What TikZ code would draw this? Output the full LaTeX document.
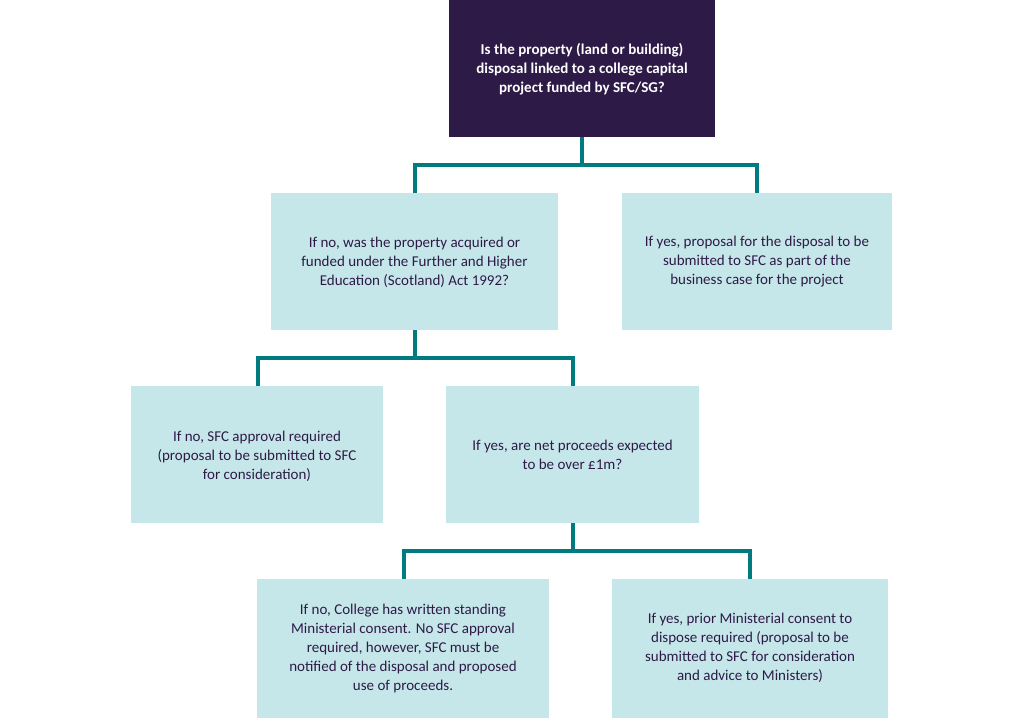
\documentclass[tikz,border=0pt]{standalone}
\usepackage{fontspec}
\setmainfont{Carlito}
\definecolor{dpurple}{HTML}{2E1A47}
\definecolor{lbox}{HTML}{C6E7EA}
\definecolor{teal}{HTML}{007C80}
\begin{document}
\begin{tikzpicture}[x=1pt,y=-1pt,
  lb/.style={fill=lbox,draw=none,align=center,text=dpurple,font=\fontsize{15}{19}\selectfont,inner sep=0pt},
  conn/.style={draw=teal,line width=3.5pt}]
\useasboundingbox (0,0) rectangle (1024,718);
\fill[dpurple] (449,0) rectangle (715,137);
\node[text=white,font=\bfseries\fontsize{15}{19}\selectfont,align=center] (t) at (582,69) {Is the property (land or building)\\disposal linked to a college capital\\project funded by SFC/SG?};
\coordinate (tb) at (582,137);
\fill[lbox] (271,193) rectangle (558,330);
\node[lb] (b2) at (414.5,262) {If no, was the property acquired or\\funded under the Further and Higher\\Education (Scotland) Act 1992?};
\fill[lbox] (622,193) rectangle (892,330);
\node[lb] (b3) at (757,262) {If yes, proposal for the disposal to be\\submitted to SFC as part of the\\business case for the project};
\fill[lbox] (131,386) rectangle (383,523);
\node[lb] (b4) at (257,456) {If no, SFC approval required\\(proposal to be submitted to SFC\\for consideration)};
\fill[lbox] (446,386) rectangle (699,523);
\node[lb] (b5) at (572.5,455) {If yes, are net proceeds expected\\to be over £1m?};
\fill[lbox] (257,579) rectangle (549,718);
\node[lb] (b6) at (403,648) {If no, College has written standing\\Ministerial consent. No SFC approval\\required, however, SFC must be\\notified of the disposal and proposed\\use of proceeds.};
\fill[lbox] (612,579) rectangle (888,718);
\node[lb] (b7) at (750,648) {If yes, prior Ministerial consent to\\dispose required (proposal to be\\submitted to SFC for consideration\\and advice to Ministers)};
\coordinate (a1) at (582,165); \coordinate (l1) at (415,165); \coordinate (r1) at (757,165);
\coordinate (d2) at (415,193); \coordinate (d3) at (757,193);
\draw[conn] (tb) -- (a1); \draw[conn] (d2) -- (l1) -- (r1) -- (d3);
\coordinate (s2) at (415,330); \coordinate (a2) at (415,358); \coordinate (l2) at (258,358); \coordinate (r2) at (573,358);
\coordinate (d4) at (258,386); \coordinate (d5) at (573,386);
\draw[conn] (s2) -- (a2); \draw[conn] (d4) -- (l2) -- (r2) -- (d5);
\coordinate (s5) at (573,523); \coordinate (a3) at (573,551); \coordinate (l3) at (404,551); \coordinate (r3) at (750,551);
\coordinate (d6) at (404,579); \coordinate (d7) at (750,579);
\draw[conn] (s5) -- (a3); \draw[conn] (d6) -- (l3) -- (r3) -- (d7);
\end{tikzpicture}
\end{document}
